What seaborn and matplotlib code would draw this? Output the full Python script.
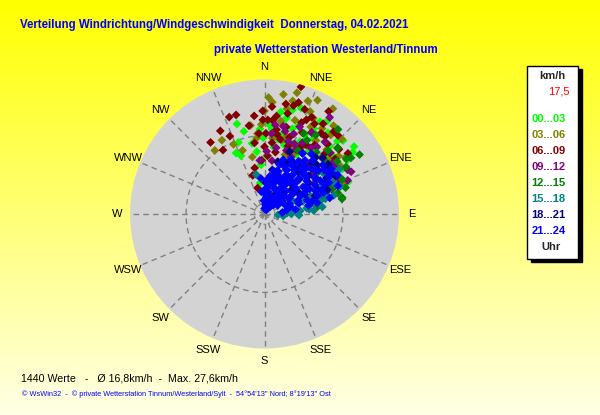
import numpy as np
import pandas as pd
import matplotlib
matplotlib.use("Agg")
import matplotlib.pyplot as plt
import seaborn as sns
from matplotlib.patches import Rectangle

# wind direction (deg from north) and speed (km/h) per time slot
lime_dir = [-17, -20, -22, -10, -7, -1, 11, 13, 24, 34, 53, 57, 69, -8, 26, 24, 18, 5, 30, 40,
            45, 20, 15, 8, 36, 48, 28, 2, -4, 33, 42, 16, 22, 60, 12,
            -14, -25, 3, 9, 19, 27, 31, 38, 44, 50, 55, 63, 10, 21, 29, 35, -3, 14, 47, 25]
lime_spd = [21, 17, 14, 16, 14, 17, 21, 22, 25, 25, 25, 22, 20, 7, 18, 23, 20, 19, 22, 21,
            23, 17, 24, 15, 18, 19, 15, 13, 11, 20, 17, 16, 13, 20, 18,
            19, 15, 20, 23, 25, 20, 24, 23, 21, 20, 24, 18, 17, 21, 19, 17, 19, 18, 24, 14]
olive_dir = [-38, 4, 15, 25, 33, -5, -6, -19, 55, 69, 24, 35, 44, 10, 18, 28, 40, 48, -2, 6,
             30, 38, 20, 12, 50, 62, 26, 16, -12, 42, 8, 22, 58, 34,
             -30, -24, 0, 2, 9, 14, 21, 27, 31, 36, 41, 46, 52, 57, 65, 19, 29, 45, -9, 13]
olive_spd = [18, 25, 28, 28, 28, 18, 17, 15, 22, 19, 25, 20, 20, 21, 22, 22, 23, 22, 20, 17,
             18, 25, 19, 24, 19, 18, 15, 18, 13, 16, 19, 16, 17, 23,
             19, 17, 23, 26, 27, 26, 27, 24, 21, 22, 21, 24, 21, 20, 18, 14, 17, 18, 20, 17]
maroon_dir = [-37, -28, -33, -20, -16, -1, -1, 5, 16, 15, 13, 22, 32, 40, 54, 49, -12, -15, -17, 1,
              8, 18, 25, 30, 12, 20, 28, 36, 45, 0, 3, 10, 60, -3, 24, 35, 6, 14, 42, -8,
              -24, -10, -6, 4, 7, 11, 17, 21, 26, 29, 33, 38, 43, 47, 52, -4, 2, 9, 19, 31]
maroon_spd = [20, 21, 17, 23, 23, 23, 21, 21, 29.5, 25, 23, 22, 27, 24, 23, 22, 10.5, 6, 9, 18,
              19, 18, 20, 21, 17, 15, 17, 19, 19, 15, 13, 14, 17, 12, 23, 22, 16, 20, 21, 16,
              19, 20, 22, 24, 22, 25, 26, 25, 24, 23, 24, 22, 24, 20, 20, 18, 21, 18, 16, 18]
purple_dir = [5, 64, 80, 34, 22, 66, 62, 10, 18, 28, 38, 46, 55, 15, 25, 42, 50, 58, 72, 30,
              20, 8, 2, 36, 48, 12, 44, 70, 60, 26, -5, 53,
              7, 14, 23, 32, 40, 47, 56, 63, 68, 75, 19, 35]
purple_spd = [18, 21.5, 11.5, 26, 21, 18.5, 21, 15, 17, 18, 19, 18, 17, 12, 14, 15, 14, 13, 14, 21,
              19, 12, 14, 12, 22, 20, 10, 16, 16, 16, 12, 19,
              20, 19, 17, 16, 21, 20, 19, 18, 20, 13, 15, 18]
green_dir = [58, 41, 56, 74, 78, 69, 60, 72, 79, 50, 45, 65, 38, 52, 30, 62, 70, 48, 35, 55,
             66, 43, 76, 28, 33, 40, 47, 54, 61, 68, 73, 26, 57, 82]
green_spd = [25, 25, 22, 17, 17.7, 16.4, 21, 19, 17.6, 18, 20, 16, 17, 15, 19, 13, 14, 22, 14, 12,
             19, 12, 15, 16, 21, 18, 16, 20, 18, 17, 12, 20, 23, 12]
teal_dir = [-12, 59, 83, 92, 96, 77, 65, 70, 75, 80, 85, 55, 60, 68, 72, 50, 62, 88, 78, 45,
            58, 66, 74, 82, 40, 52, 64, 86, 35, 70, 60, 76,
            48, 56, 63, 69, 73, 79, 84, 90, 54, 67, 44, 94]
teal_spd = [9, 19.5, 13, 7.7, 4.2, 12.7, 17, 15, 16, 10, 8, 14, 11, 13, 9, 17, 16, 5, 6, 12,
            9, 7, 11, 9.5, 14, 12, 14, 11, 10, 18, 18.5, 14,
            15, 16, 15, 11, 14, 11.5, 10, 6, 8, 17, 9, 3]
navy_dir = [10, 20, 30, 40, 50, 60, 15, 25, 35, 45, 55, 65, 5, 18, 28, 38, 48, 58, 70, 22,
            32, 42, 52, 12, 36, 44, 54, 64, 26, 46, 8, 34, 56, 40, 62, 30,
            14, 24, 33, 43, 53, 63, 19, 29, 39, 49, 59, 69, 2, 47, 57, 37]
navy_spd = [10, 12, 13, 14, 15, 16, 7, 8, 10, 11, 12, 13, 5, 4, 5, 7, 8, 9, 12, 15,
            16, 17, 18, 3, 3, 5, 5, 10, 11, 18, 8, 6, 14, 9, 18, 2,
            12, 12.5, 14, 15.5, 17, 15, 9, 9, 12, 13, 11, 15, 7, 16, 17, 13]
blue_dir = [0, 2, -3, 5, 4, 8, 10, 12, 9, 15, 14, 17, 16, 20, 22, 19, 21, 25, 24, 27,
            26, 23, 30, 31, 29, 33, 28, 35, 36, 34, 37, 38, 40, 41, 39, 43, 42, 44, 46, 45,
            47, 48, 50, 49, 52, 51, 53, 55, 54, 56, 57, 58, 60, 61, 59, 63, 62, 65, 66, 64,
            68, 70, 69, 72, 74, 76, 78, -8, -6, 82, 85, 32, 18, 6,
            1, 3, 7, 11, 13, 18, 23, 26, 28, 31, 34, 36, 39, 42, 45, 48, 51, 54, 57, 60,
            64, 67, 71, 73, 75, 79, 80, 44, 38, 33, 27, 21, 15, 9, 55, 49, 41, 62, 67, 58]
blue_spd = [1.2, 4.5, 3, 6.8, 2.2, 8.5, 5, 9.8, 1.8, 3.5, 7.2, 11.5, 10, 2.5, 6, 12.8, 9, 4, 8, 11,
            13.5, 1, 3, 6.5, 10, 14, 12.5, 5, 8.5, 11.8, 15, 2, 4, 9.5, 13, 7, 16.2, 11, 14.5, 2.8,
            6, 9, 17, 4.5, 12, 15.5, 8, 10.5, 13.8, 18, 3.5, 6.5, 16.5, 11.5, 14.5, 9, 18.5, 5, 12.5, 16,
            8, 14, 17.5, 10, 6, 15, 12, 5, 8, 7, 4, 16, 7.5, 3.8,
            5.5, 7.5, 6, 8, 4, 10, 11.5, 6, 9, 12.5, 7.5, 11, 14, 13.5, 10, 12.5, 9, 16.5, 11, 13,
            15, 14, 12.5, 8, 11, 10, 5, 12.5, 17, 9.5, 3, 8.5, 9, 3.5, 7.5, 15, 5.5, 10, 6, 17.5]

slots = ["00...03", "03...06", "06...09", "09...12", "12...15", "15...18", "18...21", "21...24"]
slot_colors = ["#00ff00", "#808000", "#800000", "#800080", "#008000", "#008080", "#000080", "#0000ff"]
directions = ["N", "NNE", "NE", "ENE", "E", "ESE", "SE", "SSE",
              "S", "SSW", "SW", "WSW", "W", "WNW", "NW", "NNW"]
r_max = 30
r_ring = 17.5

groups = [(lime_dir, lime_spd), (olive_dir, olive_spd), (maroon_dir, maroon_spd),
          (purple_dir, purple_spd), (green_dir, green_spd), (teal_dir, teal_spd),
          (navy_dir, navy_spd), (blue_dir, blue_spd)]
frames = []
for slot, (d, s) in zip(slots, groups):
    frames.append(pd.DataFrame({"theta": np.deg2rad(d), "speed": s, "slot": slot}))
df = pd.concat(frames, ignore_index=True)

sns.set_style("white")
plt.rcParams["font.family"] = ["Liberation Sans", "DejaVu Sans"]

W, H = 600, 415
fig = plt.figure(figsize=(6, 4.15), dpi=100)

# yellow gradient background
bg = fig.add_axes([0, 0, 1, 1])
shade = np.linspace(0.0, 0.9, 256)
grad = np.ones((256, 1, 3))
grad[:, 0, 2] = shade
bg.imshow(grad, aspect="auto", extent=[0, 1, 0, 1])
bg.axis("off")

cx, cy, rad = 264.5, 214, 134.5
ax = fig.add_axes([(cx - rad) / W, (H - cy - rad) / H, 2 * rad / W, 2 * rad / H], projection="polar")
ax.set_theta_zero_location("N")
ax.set_theta_direction(-1)
ax.set_facecolor("#d3d3d3")
ax.spines["polar"].set_visible(False)
ax.grid(False)
ax.set_xticks([])
ax.set_yticks([])
ax.set_ylim(0, r_max)

for i, name in enumerate(directions):
    th = np.deg2rad(i * 22.5)
    ax.plot([th, th], [0, r_max], ls=(0, (4, 3)), color="#808080", lw=1, zorder=1)
    ax.text(th, 32.8, name, ha="center", va="center", fontsize=8, color="black")
circ = np.linspace(0, 2 * np.pi, 300)
ax.plot(circ, np.full_like(circ, r_ring), ls=(0, (4, 3)), color="#808080", lw=1, zorder=1)
ax.plot(circ, np.full_like(circ, 2.3), ls=(0, (2, 2)), color="#808080", lw=0.8, zorder=1)

sns.scatterplot(data=df, x="theta", y="speed", hue="slot", hue_order=slots,
                palette=slot_colors, marker="D", s=20, linewidth=0, legend=False, ax=ax, zorder=3)
ax.set_xlabel("")
ax.set_ylabel("")
ax.set_ylim(0, r_max)

def ftext(x, y, s, **kw):
    fig.text(x / W, 1 - y / H, s, **kw)

ftext(20, 25, "Verteilung Windrichtung/Windgeschwindigkeit  Donnerstag, 04.02.2021",
      color="#0000ff", fontsize=8.3, fontweight="bold", va="center")
ftext(214, 50, "private Wetterstation Westerland/Tinnum",
      color="#0000ff", fontsize=8.3, fontweight="bold", va="center")
ftext(21, 378, "1440 Werte   -   \u00d8 16,8km/h  -  Max. 27,6km/h",
      color="black", fontsize=7.7, va="center")
ftext(22, 394, "\u00a9 WsWin32  -  \u00a9 private Wetterstation Tinnum/Westerland/Sylt  -  "
      "54\u00b054'13'' Nord; 8\u00b019'13'' Ost", color="#0000ff", fontsize=5.3, va="center")

# legend box with shadow
bx, by, bw, bh = 526.5, 66.5, 51, 192.5
fig.patches.append(Rectangle(((bx + 4) / W, 1 - (by + bh + 3) / H), bw / W, bh / H,
                             transform=fig.transFigure, facecolor="black", edgecolor="black", zorder=5))
fig.patches.append(Rectangle((bx / W, 1 - (by + bh) / H), bw / W, bh / H,
                             transform=fig.transFigure, facecolor="white", edgecolor="black",
                             lw=1, zorder=6))
ftext(552, 76, "km/h", fontsize=8, fontweight="bold", ha="center", va="center", zorder=7)
ftext(570, 92, "17,5", fontsize=8, color="red", ha="right", va="center", zorder=7)
for k, (slot, col) in enumerate(zip(slots, slot_colors)):
    ftext(548.5, 119.3 + 16 * k, slot, fontsize=8, fontweight="bold", color=col,
          ha="center", va="center", zorder=7)
ftext(550.5, 247, "Uhr", fontsize=8, fontweight="bold", ha="center", va="center", zorder=7)

fig.savefig("out.png", dpi=100)
